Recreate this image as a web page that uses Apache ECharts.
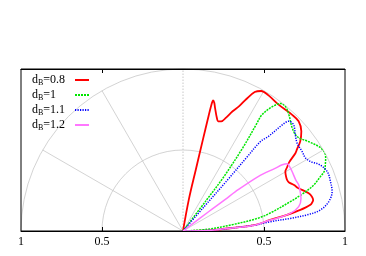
<!DOCTYPE html>
<html>
<head>
<meta charset="utf-8">
<script src="https://cdn.jsdelivr.net/npm/echarts@6/dist/echarts.min.js"></script>
<style>html,body{margin:0;padding:0;background:#fff;}#c{width:366px;height:256px;}</style>
</head>
<body>
<div id="c"></div>
<script>
// Series: [angle in degrees, radius]
const seriesNames = ['dB=0.8', 'dB=1', 'dB=1.1', 'dB=1.2'];
const seriesLabels = ['{t|d}{s|B}{t|=0.8}', '{t|d}{s|B}{t|=1}', '{t|d}{s|B}{t|=1.1}', '{t|d}{s|B}{t|=1.2}'];

const curveB08 = [[79.5,0],[79.5,0.2],[78.2,0.388],[77.7,0.587],[77.5,0.70],[77.3,0.80],[77.0,0.828],[76.3,0.815],[75.4,0.785],[73.3,0.728],[72.2,0.711],[70.8,0.716],[69.2,0.749],[67.5,0.80],[65.7,0.847],[64.4,0.902],[62.7,0.965],[60.8,0.99],[57.9,0.99],[52.9,0.978],[46.9,0.984],[43.5,0.984],[40.1,0.955],[37.4,0.911],[35.6,0.865],[34.7,0.844],[32.9,0.78],[31.4,0.752],[30.2,0.731],[28,0.72],[26.2,0.716],[24.6,0.72],[22.5,0.742],[20.5,0.758],[18.5,0.785],[16.7,0.81],[15,0.823],[13.4,0.826],[12.4,0.816],[11.6,0.803],[10.8,0.769],[10.2,0.736],[8.8,0.65],[7.2,0.543],[4.8,0.45],[3.5,0.304],[2.3,0.22],[1.3,0.16],[0,0]];

const curveB10 = [[52.5,0],[52.8,0.244],[53,0.408],[54.3,0.633],[55.5,0.80],[55.8,0.867],[54.3,0.945],[52.6,0.99],[50.5,0.995],[47.6,0.97],[43.2,0.926],[39.5,0.915],[35.3,0.953],[31.8,0.988],[29.3,1.0],[27.2,0.99],[25.9,0.978],[23,0.948],[21.6,0.912],[19.4,0.856],[17.4,0.78],[15.3,0.687],[11.8,0.555],[9.7,0.47],[7.3,0.306],[4,0.15],[0,0]];

const curveB11 = [[49,0],[49,0.2],[48.9,0.421],[49.1,0.6],[49.1,0.731],[47.9,0.787],[46.9,0.897],[46.1,0.94],[43.9,0.947],[40.6,0.913],[37.6,0.889],[33.7,0.884],[30.9,0.88],[28.5,0.897],[26.1,0.935],[22.4,0.963],[18.5,0.96],[14.8,0.952],[11.4,0.918],[8.7,0.858],[7.4,0.772],[6.7,0.667],[6.1,0.542],[4.6,0.44],[3.5,0.304],[2.3,0.22],[1.3,0.16],[0,0]];

const curveB12 = [[38,0],[37,0.2],[36.7,0.326],[36.9,0.405],[35.9,0.576],[34.2,0.691],[33.7,0.737],[32.8,0.766],[30.5,0.768],[28.6,0.767],[24.4,0.764],[21.7,0.769],[18,0.762],[15.5,0.756],[11.9,0.73],[9.3,0.671],[7.7,0.585],[7.2,0.543],[4.8,0.45],[3.5,0.304],[2.3,0.22],[1.3,0.16],[0,0]];

const xTickValues = [-1, -0.5, 0, 0.5, 1];
const xTickLabels = ['1', '0.5', '', '0.5', '1'];
const verticalGridLine = [[0, 90], [1, 90]];

const curves = [curveB08, curveB10, curveB11, curveB12];
const colors = ['#ff0000', '#00e600', '#0000ff', '#ff77ff'];
const dashTypes = ['solid', [2, 1], [1.2, 1.3], 'solid'];
const widths = [1.8, 1.5, 1.5, 1.5];

const chart = echarts.init(document.getElementById('c'), null, {renderer: 'canvas'});
const serif = 'Liberation Serif';
const gridGray = '#c8c8c8';

const series = curves.map((c, i) => ({
  name: seriesNames[i],
  type: 'line',
  coordinateSystem: 'polar',
  polarIndex: 0,
  symbol: 'none',
  showSymbol: false,
  smooth: 0.35,
  z: 5,
  data: c.map(p => [p[1], p[0]]),
  lineStyle: {color: colors[i], width: widths[i], type: dashTypes[i]},
  itemStyle: {color: colors[i]}
}));
series.push({
  name: 'v90',
  type: 'line',
  coordinateSystem: 'polar',
  symbol: 'none',
  z: 1,
  silent: true,
  data: verticalGridLine.map(p => [p[0], p[1]]),
  lineStyle: {color: gridGray, width: 1, type: [1.5, 1.5]}
});

chart.setOption({
  animation: false,
  backgroundColor: '#fff',
  grid: {left: 21, right: 21, top: 69, bottom: 25, show: true, borderColor: '#000', borderWidth: 1, z: 3},
  xAxis: [{
    type: 'value', min: -1, max: 1, interval: 0.5, position: 'bottom',
    axisLine: {show: true, lineStyle: {color: '#000', width: 1}},
    axisTick: {show: true, inside: true, length: 4, customValues: [-0.5, 0.5], lineStyle: {color: '#000'}},
    axisLabel: {margin: 5, fontFamily: serif, fontSize: 12, color: '#000',
      formatter: v => { const k = xTickValues.findIndex(t => Math.abs(t - v) < 1e-9); return k >= 0 ? xTickLabels[k] : ''; }},
    splitLine: {show: false}
  }, {
    type: 'value', min: -1, max: 1, interval: 0.5, position: 'top',
    axisLine: {show: true, lineStyle: {color: '#000', width: 1}},
    axisTick: {show: true, inside: true, length: 4, customValues: [-0.5, 0.5], lineStyle: {color: '#000'}},
    axisLabel: {show: false},
    splitLine: {show: false}
  }],
  yAxis: {type: 'value', min: 0, max: 1, show: false},
  polar: {center: [183, 231], radius: 162},
  angleAxis: {
    type: 'value', min: 0, max: 180, interval: 30,
    startAngle: 0, endAngle: 180, clockwise: false,
    axisLine: {show: false}, axisTick: {show: false}, axisLabel: {show: false},
    splitLine: {show: true, lineStyle: {width: 0.8,
      color: ['rgba(0,0,0,0)', gridGray, gridGray, 'rgba(0,0,0,0)', gridGray, gridGray, 'rgba(0,0,0,0)']}}
  },
  radiusAxis: {
    type: 'value', min: 0, max: 1, interval: 0.5,
    axisLine: {show: false}, axisTick: {show: false}, axisLabel: {show: false},
    splitLine: {show: true, lineStyle: {color: gridGray, width: 0.8}}
  },
  legend: {
    data: seriesNames,
    selectedMode: false,
    orient: 'vertical',
    align: 'right',
    left: 27, top: 68,
    itemGap: 1, itemWidth: 14, itemHeight: 10,
    itemStyle: {opacity: 0},
    formatter: n => seriesLabels[seriesNames.indexOf(n)],
    textStyle: {fontFamily: serif, fontSize: 12, color: '#000', width: 38, lineHeight: 14, align: 'left',
      rich: {
        t: {fontFamily: serif, fontSize: 12, lineHeight: 14, align: 'left', color: '#000'},
        s: {fontFamily: serif, fontSize: 8, lineHeight: 8, verticalAlign: 'bottom', align: 'left', color: '#000'}
      }}
  },
  series: series
});
</script>
</body>
</html>
